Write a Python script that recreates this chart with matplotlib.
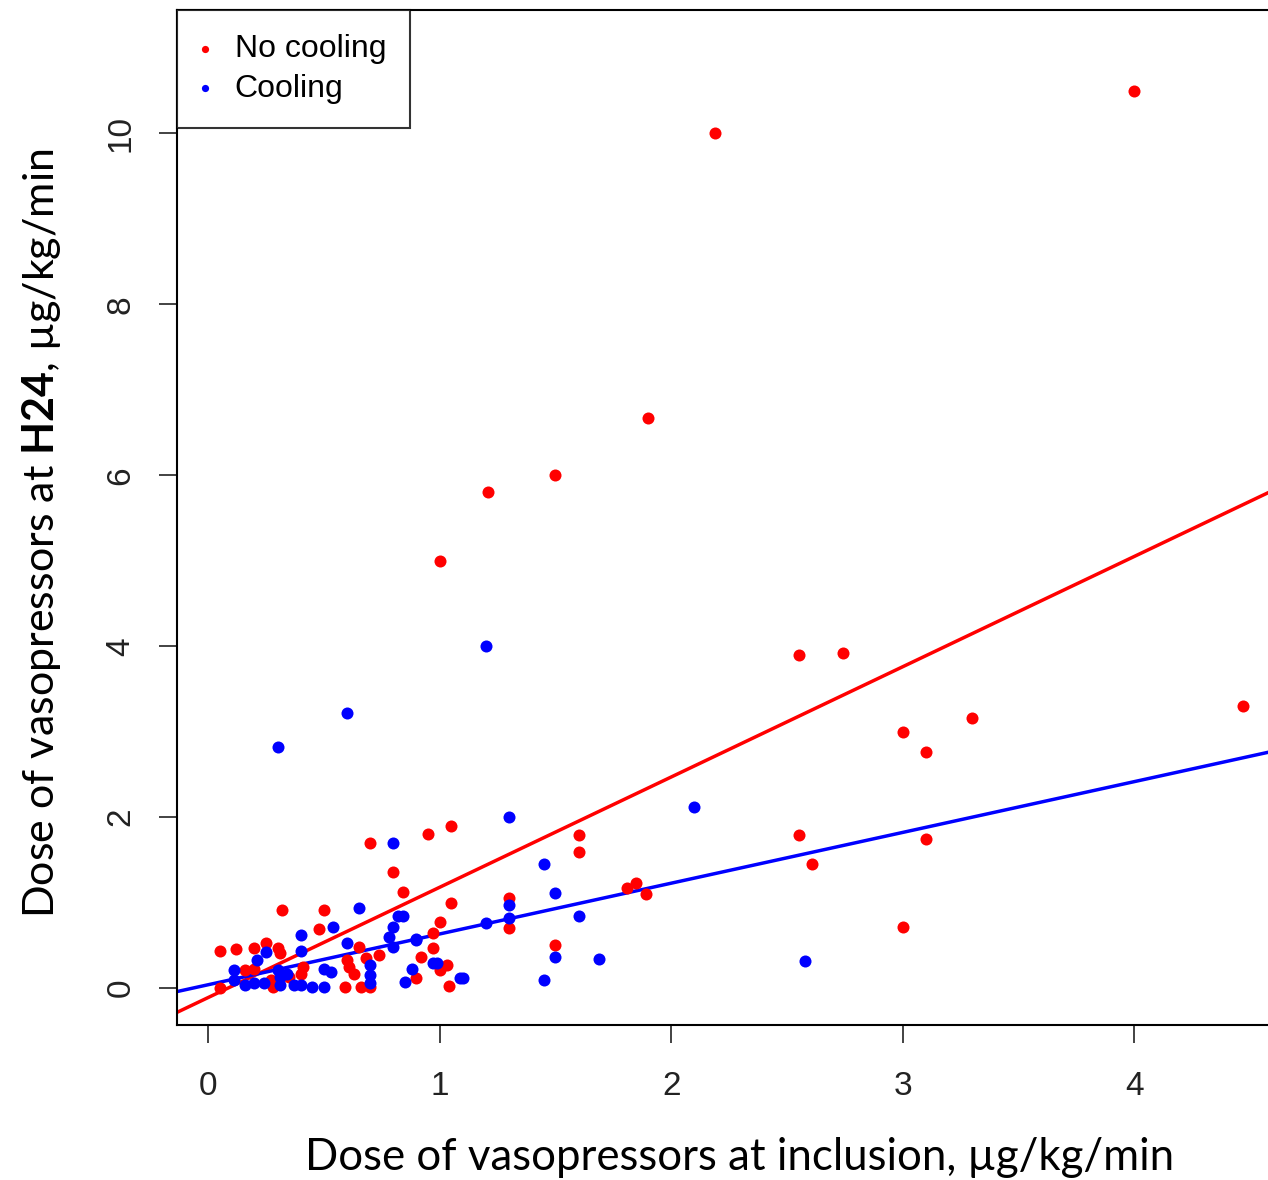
import numpy as np
import matplotlib.pyplot as plt

plt.rcParams['mathtext.fontset'] = 'custom'
plt.rcParams['mathtext.rm'] = 'Lato'
plt.rcParams['mathtext.bf'] = 'Lato:bold'

# No cooling (red)
nc_x = [4.0, 2.19, 1.90, 1.50, 1.21, 1.0, 2.55, 2.74, 4.47, 3.30, 3.0, 3.10, 2.55, 3.10, 2.61, 3.0,
        1.60, 1.60, 1.81, 1.85, 1.89, 1.50,
        0.95, 1.05, 0.84, 1.05, 1.30, 1.30, 1.0, 0.97, 0.97, 0.92, 1.03, 1.0, 0.90, 1.04,
        0.70, 0.80, 0.32, 0.50, 0.48, 0.05, 0.12, 0.20, 0.25, 0.30, 0.31, 0.65, 0.74, 0.68,
        0.60, 0.61, 0.63, 0.41, 0.40, 0.16, 0.20, 0.35, 0.27, 0.28, 0.05, 0.59, 0.66, 0.70]
nc_y = [10.49, 10.0, 6.67, 6.0, 5.8, 5.0, 3.9, 3.92, 3.3, 3.16, 3.0, 2.76, 1.79, 1.74, 1.45, 0.71,
        1.79, 1.59, 1.17, 1.23, 1.10, 0.51,
        1.80, 1.90, 1.13, 1.0, 1.06, 0.70, 0.77, 0.64, 0.47, 0.36, 0.27, 0.21, 0.12, 0.02,
        1.70, 1.36, 0.91, 0.91, 0.69, 0.43, 0.46, 0.47, 0.53, 0.47, 0.41, 0.48, 0.39, 0.35,
        0.33, 0.25, 0.17, 0.25, 0.17, 0.21, 0.23, 0.13, 0.09, 0.01, 0.0, 0.01, 0.01, 0.01]

# Cooling (blue)
c_x = [1.20, 0.60, 0.30, 2.10, 1.30, 1.45, 1.50, 1.60, 1.30, 1.30, 1.20, 0.90, 0.84, 0.99, 0.97,
       0.88, 0.85, 1.09, 1.10, 1.50, 1.69, 1.45, 2.58,
       0.80, 0.65, 0.82, 0.54, 0.80, 0.40, 0.78, 0.80, 0.90, 0.40, 0.60, 0.25, 0.21, 0.70, 0.50,
       0.53, 0.70, 0.11, 0.30, 0.34, 0.11, 0.16, 0.20, 0.24, 0.31, 0.37, 0.40, 0.45, 0.50, 0.70, 0.31]
c_y = [4.0, 3.22, 2.82, 2.12, 2.0, 1.45, 1.11, 0.85, 0.97, 0.82, 0.76, 0.56, 0.85, 0.30, 0.29,
       0.22, 0.07, 0.12, 0.12, 0.36, 0.34, 0.09, 0.32,
       1.70, 0.94, 0.85, 0.71, 0.71, 0.62, 0.60, 0.48, 0.57, 0.44, 0.53, 0.42, 0.33, 0.27, 0.23,
       0.19, 0.15, 0.21, 0.21, 0.17, 0.09, 0.04, 0.06, 0.06, 0.04, 0.04, 0.04, 0.01, 0.01, 0.06, 0.13]

# regression lines (intercept, slope)
nc_fit = (-0.11, 1.29)
c_fit = (0.04, 0.594)

xticks = [0, 1, 2, 3, 4]
yticks = [0, 2, 4, 6, 8, 10]

fig = plt.figure(figsize=(12.68, 11.8), dpi=100)
ax = fig.add_axes([0.1396, 0.1314, 0.87, 0.860])

ax.scatter(nc_x, nc_y, s=75, color='#ff0000', linewidths=0, zorder=3, label='No cooling')
ax.scatter(c_x, c_y, s=75, color='#0000ff', linewidths=0, zorder=3, label='Cooling')
ax.axline((0, nc_fit[0]), slope=nc_fit[1], color='#ff0000', lw=2.5, zorder=2)
ax.axline((0, c_fit[0]), slope=c_fit[1], color='#0000ff', lw=2.5, zorder=2)

ax.set_xlim(-0.134, 4.63)
ax.set_ylim(-0.43, 11.44)
ax.set_xticks(xticks)
ax.set_yticks(yticks)
ax.tick_params(direction='out', length=13, width=1.2, labelsize=24, color='#222222')
ax.tick_params(axis='x', pad=20)
ax.tick_params(axis='y', pad=16)
for lab in ax.get_xticklabels() + ax.get_yticklabels():
    lab.set_fontfamily('Liberation Sans')
    lab.set_color('#222222')
for lab in ax.get_yticklabels():
    lab.set_rotation(90)
    lab.set_va('center')
for sp in ax.spines.values():
    sp.set_linewidth(1.5)

ax.set_xlabel('Dose of vasopressors at inclusion, µg/kg/min', fontsize=31.5, fontfamily='Lato')
ax.set_ylabel(r'Dose of vasopressors at $\mathbf{H24}$, µg/kg/min', fontsize=31,
              fontfamily='Lato')
ax.xaxis.set_label_coords(0.51, -0.11)
ax.yaxis.set_label_coords(-0.103, 0.485)

leg = ax.legend(loc='upper left', borderaxespad=0, fancybox=False, edgecolor='black',
                prop={'family': 'Liberation Sans', 'size': 23}, markerscale=0.6,
                handletextpad=0.8, borderpad=0.75, labelspacing=0.3, handlelength=0.25)
leg.get_frame().set_linewidth(1.5)

fig.savefig('out.png', dpi=100)
